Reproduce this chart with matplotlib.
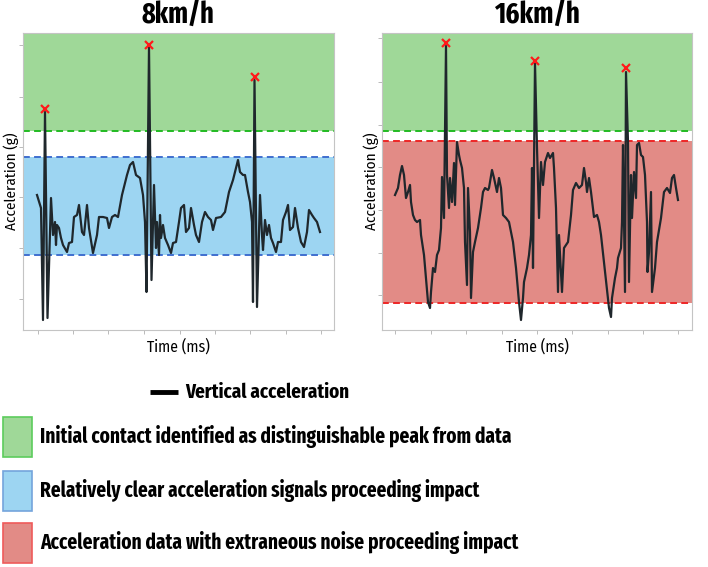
import matplotlib
matplotlib.use("Agg")
import matplotlib.pyplot as plt
from matplotlib import font_manager
from matplotlib.patches import Rectangle

# ---------------- data (arbitrary units) ----------------
t8 = [14, 18, 20, 22, 24.5, 28, 30, 32, 33, 34, 36, 38, 40, 44, 46, 49, 51, 54, 56, 59,
      61, 64, 66, 70, 74, 76, 80, 84, 86, 89, 92, 95, 99, 104, 107, 110, 113, 117, 120, 122,
      123.5, 126, 128.5, 131, 133, 134, 136, 137, 138, 140, 142, 145, 148, 150, 153, 156, 158,
      161, 163, 166, 168, 171, 173, 176, 179, 182, 185, 188, 190, 193, 198, 202, 206, 210, 213,
      215, 217, 220, 222, 225, 227, 229, 230, 231.5, 234, 237, 239, 240, 242, 244, 246, 248,
      250, 253, 255, 258, 260, 263, 265, 267, 270, 272, 275, 278, 281, 284, 286, 289, 291, 294, 297]
a8 = [135, 122, 10, 218, 12, 132, 95, 108, 85, 105, 102, 92, 85, 78, 87, 88, 113, 115, 125, 98,
      95, 125, 102, 77, 95, 113, 113, 112, 102, 113, 115, 113, 135, 155, 165, 168, 155, 152, 135, 108,
      38, 283, 50, 145, 82, 108, 75, 115, 92, 105, 92, 85, 77, 87, 88, 108, 122,
      125, 98, 102, 122, 105, 95, 88, 108, 118, 113, 110, 100, 112, 113, 118, 138, 150, 162,
      170, 158, 155, 155, 138, 128, 108, 28, 250, 23, 135, 95, 80, 110, 95, 105, 92,
      87, 78, 88, 88, 110, 118, 125, 100, 103, 122, 102, 88, 83, 98, 120, 115, 112, 108, 98]
peaks8_t = [22, 126, 231.5]
peaks8_a = [221, 285, 253]

t16 = [13, 16, 18, 20, 22, 24, 26, 28, 29, 31, 33, 35, 38, 39, 42, 44, 46, 48, 49, 51, 53, 55,
       57, 59, 60, 62, 63, 64, 65, 67, 68, 70, 72, 73, 75, 77, 78, 80, 82, 83, 85, 86, 88, 89,
       91, 93, 96, 99, 101, 103, 106, 107, 110, 112, 115, 117, 119, 121, 124, 127, 131, 134,
       137, 139, 141, 142, 145, 147, 149, 150, 151, 153, 155, 156, 157, 159, 161, 163, 166, 168,
       171, 172, 174, 176, 177, 180, 182, 186, 189, 191, 194, 197, 200, 202, 204, 205, 207, 209,
       212, 215, 217, 219, 222, 225, 227, 229, 230, 233, 235, 236, 239, 240, 241, 243, 244, 246,
       247, 249, 250, 252, 254, 255, 257, 259, 261, 263, 265, 265.5, 267, 269, 270, 273, 275,
       279, 282, 285, 288, 290, 292, 294, 296]
a16 = [135, 142, 155, 164, 155, 132, 138, 145, 128, 115, 110, 108, 110, 95, 75, 52, 28, 22, 38,
       62, 58, 75, 80, 102, 153, 112, 195, 284, 155, 122, 152, 128, 167, 125, 188, 175, 170, 162,
       142, 88, 45, 142, 98, 32, 78, 88, 102, 122, 138, 142, 140, 142, 160, 152, 138, 152, 142,
       115, 112, 108, 88, 62, 28, 10, 32, 48, 62, 75, 95, 162, 62, 267, 182, 145, 112, 168, 145,
       168, 177, 172, 177, 162, 122, 38, 95, 38, 82, 88, 115, 140, 147, 142, 145, 162, 148, 138,
       152, 138, 113, 115, 108, 95, 68, 42, 22, 13, 32, 52, 62, 72, 82, 108, 185, 38, 258, 188,
       48, 155, 112, 158, 132, 185, 187, 175, 173, 155, 108, 58, 78, 138, 38, 62, 88, 112, 138,
       142, 137, 152, 155, 142, 130]
peaks16_t = [64, 153, 244]
peaks16_a = [287, 269, 262]

contact8 = 199
clear_band8 = (75, 173)
contact16 = 199
noise_band16 = (27, 189)

titles = ["8km/h", "16km/h"]
xlabel = "Time (ms)"
ylabel = "Acceleration (g)"
legend_line = "Vertical acceleration"
legend_items = ["Initial contact identified as distinguishable peak from data",
                "Relatively clear acceleration signals proceeding impact",
                "Acceleration data with extraneous noise proceeding impact"]

# ---------------- style ----------------
W, H = 708, 567
names = {f.name for f in font_manager.fontManager.ttflist}


def pick(cands):
    for c in cands:
        if c in names:
            return c
    return "DejaVu Sans"


BOLD_FONT = pick(["Fira Sans Extra Condensed", "Fira Sans Condensed", "PT Sans Narrow",
                  "Open Sans Condensed", "Barlow Condensed", "Asap Condensed",
                  "Archivo Narrow", "Lato"])
LABEL_FONT = pick(["Fira Sans Condensed", "PT Sans Narrow", "Asap Condensed", "Lato"])
plt.rcParams["font.family"] = ["Lato", "DejaVu Sans"]

GREEN_FILL, GREEN_LINE, GREEN_EDGE = "#9fd898", "#22bb22", "#5ccc5c"
BLUE_FILL, BLUE_LINE, BLUE_EDGE = "#9dd5f2", "#3f6fcf", "#74a4dc"
RED_FILL, RED_LINE, RED_EDGE = "#e28b86", "#ee2626", "#ef5a5a"
TRACE = "#1f272c"

fig = plt.figure(figsize=(W / 100, H / 100), dpi=100)


def px_axes(x0, y0, x1, y1):
    return fig.add_axes([x0 / W, 1 - y1 / H, (x1 - x0) / W, (y1 - y0) / H])


ax1 = px_axes(23, 33, 334, 330)
ax2 = px_axes(382, 33, 692, 330)

for ax, xmax in [(ax1, 311), (ax2, 310)]:
    ax.set_xlim(0, xmax)
    ax.set_ylim(0, 297)
    for s in ax.spines.values():
        s.set_color("#c4c4c4")
        s.set_linewidth(0.8)
    ax.tick_params(length=3, width=0.6, color="#b0b0b0", labelbottom=False, labelleft=False)

ax1.set_xticks([15, 50, 85, 121, 157, 192, 227, 263, 298])
ax1.set_yticks([31, 82, 133, 183, 233, 285])
ax2.set_xticks([13, 49, 84, 120, 155, 190, 226, 261, 296])
ax2.set_yticks([35, 77, 120, 163, 205, 248, 292])

dash = (0, (3.5, 2.2))
# left panel
ax1.axhspan(contact8, 297, color=GREEN_FILL, lw=0, zorder=0)
ax1.axhline(contact8, color=GREEN_LINE, lw=1.4, ls=dash, zorder=1)
ax1.axhspan(*clear_band8, color=BLUE_FILL, lw=0, zorder=0)
for v in clear_band8:
    ax1.axhline(v, color=BLUE_LINE, lw=1.4, ls=dash, zorder=1)
ax1.plot(t8, a8, color=TRACE, lw=1.6, zorder=3)
ax1.plot(peaks8_t, peaks8_a, ls="none", marker="x", ms=6, mew=1.6, color="#ff1a1a", zorder=4)

# right panel
ax2.axhspan(contact16, 297, color=GREEN_FILL, lw=0, zorder=0)
ax2.axhline(contact16, color=GREEN_LINE, lw=1.4, ls=dash, zorder=1)
ax2.axhspan(*noise_band16, color=RED_FILL, lw=0, zorder=0)
for v in noise_band16:
    ax2.axhline(v, color=RED_LINE, lw=1.4, ls=dash, zorder=1)
ax2.plot(t16, a16, color=TRACE, lw=1.6, zorder=3)
ax2.plot(peaks16_t, peaks16_a, ls="none", marker="x", ms=6, mew=1.6, color="#ff1a1a", zorder=4)

renderer = fig.canvas.get_renderer()


def fit_text(x, y, s, width, ha="left", rotation=0, **kw):
    t = fig.text(x / W, 1 - y / H, s, ha=ha, va="center", rotation=rotation, **kw)
    bb = t.get_window_extent(renderer)
    size = bb.height if rotation else bb.width
    t.set_fontsize(t.get_fontsize() * width / size)
    return t


# titles and axis labels
fit_text(178, 16, titles[0], 73, ha="center", fontsize=16, fontweight="bold", family=BOLD_FONT)
fit_text(537, 16, titles[1], 86, ha="center", fontsize=16, fontweight="bold", family=BOLD_FONT)
fit_text(178, 347, xlabel, 63, ha="center", fontsize=9, family=LABEL_FONT)
fit_text(537, 347, xlabel, 63, ha="center", fontsize=9, family=LABEL_FONT)
fit_text(11, 181, ylabel, 98, ha="center", rotation=90, fontsize=9, family=LABEL_FONT)
fit_text(371, 181, ylabel, 98, ha="center", rotation=90, fontsize=9, family=LABEL_FONT)

# legend
fig.add_artist(plt.Line2D([150 / W, 178 / W], [1 - 392 / H, 1 - 392 / H],
                          color="black", lw=3.5, solid_capstyle="butt"))
fit_text(185, 392, legend_line, 164, fontsize=14, fontweight="bold", family=BOLD_FONT)

boxes = [(417, 457, GREEN_FILL, GREEN_EDGE), (471, 511, BLUE_FILL, BLUE_EDGE),
         (523, 563, RED_FILL, RED_EDGE)]
widths = [469, 440, 478]
for (y0, y1, fc, ec), label, wdt in zip(boxes, legend_items, widths):
    fig.add_artist(Rectangle((3 / W, 1 - y1 / H), 29 / W, (y1 - y0) / H,
                             facecolor=fc, edgecolor=ec, lw=1.2, transform=fig.transFigure))
    fit_text(40, (y0 + y1) / 2, label, wdt, fontsize=14, fontweight="bold", family=BOLD_FONT)

fig.savefig("out.png", dpi=100)
